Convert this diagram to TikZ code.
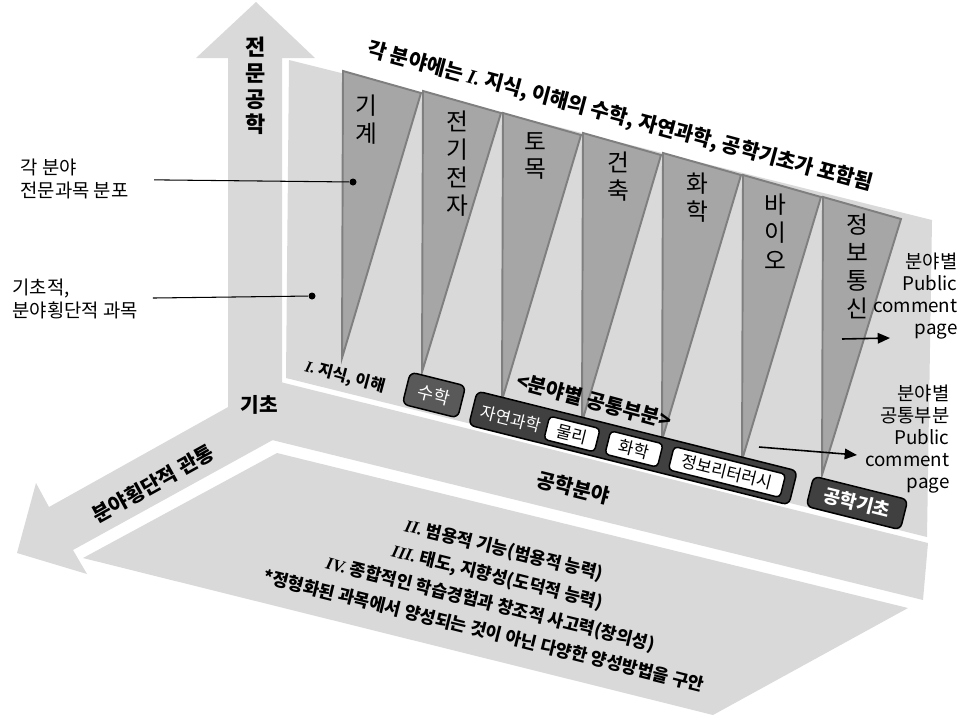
\documentclass[tikz,border=0pt]{standalone}
\usepackage{fontspec}
\setmainfont{Noto Sans CJK KR}
\newfontfamily\romfont{Liberation Serif}
\usetikzlibrary{arrows.meta,positioning}

\definecolor{floorgray}{HTML}{D9D9D9}
\definecolor{wedgefill}{HTML}{A6A6A6}
\definecolor{wedgeedge}{HTML}{7F7F7F}
\definecolor{boxdark}{HTML}{404040}
\definecolor{boxmid}{HTML}{595959}

\newcommand{\romnum}[1]{{\romfont\bfseries\itshape #1}}
\newcommand{\fsz}[2]{\fontsize{#1}{#2}\selectfont}

\begin{document}
\begin{tikzpicture}[x=0.02cm,y=-0.02cm,>={Triangle[length=7pt,width=6pt]},semithick]
  \tikzstyle{wedge}=[fill=wedgefill,draw=wedgeedge,line width=1.1pt]
  \tikzstyle{field}=[font=\fsz{13.5}{15.9},align=center,inner sep=0pt]
  \tikzstyle{axislabel}=[font=\bfseries\fsz{12.5}{14.6},align=center,inner sep=0pt]
  \tikzstyle{note}=[font=\fsz{10.7}{13},inner sep=0pt]
  \tikzstyle{darkbox}=[rotate=-14,inner sep=0pt,fill=boxdark,draw=black,line width=0.85pt,rounded corners=3.4pt,text=white]
  \tikzstyle{whitebox}=[rotate=-14,inner sep=0pt,fill=white,draw=black,line width=0.85pt,rounded corners=2.3pt,font=\fsz{9.5}{11}]
  \tikzstyle{pindot}=[circle,fill=black,inner sep=0pt,minimum size=0.14cm]

  \useasboundingbox (0,0) rectangle (976,717);

  % floor and back wall
  \fill[floorgray] (277,453) -- (908,608) -- (713,715) -- (83,558) -- cycle;
  \fill[floorgray] (289,60) -- (932,220) -- (927,537) -- (286,378) -- cycle;
  % axes: up, band to the right, down-left
  \fill[floorgray] (228,410) -- (228,58) -- (196,58) -- (256,2) -- (315,58) -- (282,58) -- (282,400) -- cycle;
  \fill[floorgray] (228,369) -- (928,543) -- (923,600) -- (272,440) -- (228,410) -- cycle;
  \fill[floorgray] (255,392) -- (49,507) -- (36,483) -- (17,553) -- (87,574) -- (73,550) -- (280,436) -- cycle;

  % wedges
  \foreach \x/\t/\b in {343/71/358,423/91/372,503/113/400,583/133/422,663/153/440,743/175/460,823/197/475}
    \draw[wedge] (\x,\t) -- (\x+78,\t+22) -- (\x-1,\b) -- cycle;

  \node[field] (mech)  at (366,120) {기\\계};
  \node[field] (elec)  at (457,164) {전\\기\\전\\자};
  \node[field] (civil) at (535,156) {토\\목};
  \node[field] (arch)  at (618,177) {건\\축};
  \node[field] (chem)  at (697,198) {화\\학};
  \node[field] (bio)   at (775,232) {바\\이\\오};
  \node[field] (info)  at (857,266) {정\\보\\통\\신};

  \node[rotate=-15,inner sep=0pt,font=\bfseries\fsz{11.5}{13}] (common) at (594,401) {<분야별 공통부분>};

  % boxes
  \node[darkbox,fill=boxmid,minimum width=1.14cm,minimum height=0.66cm,font=\fsz{10}{11}] (math) at (434,395) {수학};
  \node[darkbox,minimum width=6.6cm,minimum height=0.7cm] (sci) at (633,448) {};
  \node[rotate=-14,inner sep=0pt,text=white,font=\fsz{9.5}{11}] (scitext) at (511,419) {자연과학};
  \node[whitebox,minimum width=1.04cm,minimum height=0.48cm] (phys) at (572,434) {물리};
  \node[whitebox,minimum width=1.08cm,minimum height=0.48cm] (chembox) at (634,449) {화학};
  \node[whitebox,minimum width=2.3cm,minimum height=0.48cm] (literacy) at (727,472) {정보리터러시};
  \node[darkbox,minimum width=1.94cm,minimum height=0.62cm,font=\bfseries\fsz{10.5}{12}] (engbase) at (857,503) {공학기초};

  % axis and area texts
  \node[axislabel] (major) at (256,86) {전\\문\\공\\학};
  \node[axislabel,font=\bfseries\fsz{11.5}{13}] (basic) at (259,405) {기초};
  \node[axislabel,rotate=29,font=\bfseries\fsz{11.6}{13}] (across) at (153,484) {분야횡단적 관통};
  \node[rotate=-15,inner sep=0pt,font=\bfseries\fsz{11.6}{13}] (title) at (620,117)
    {각 분야에는 \romnum{I.} 지식, 이해의 수학, 자연과학, 공학기초가 포함됨};
  \node[rotate=-15,inner sep=0pt,font=\bfseries\fsz{9.1}{11}] (know) at (345,377) {\romnum{I.} 지식, 이해};
  \node[rotate=-14,inner sep=0pt,font=\bfseries\fsz{11.5}{13}] (engfield) at (573,488) {공학분야};
  \node[rotate=-14,inner sep=0pt,align=center,font=\bfseries\fsz{9.9}{15.9}] (skills) at (494,590)
    {\romnum{II.} 범용적 기능(범용적 능력)\\
     \romnum{III.} 태도, 지향성(도덕적 능력)\\
     \romnum{IV.} 종합적인 학습경험과 창조적 사고력(창의성)\\
     *정형화된 과목에서 양성되는 것이 아닌 다양한 양성방법을 구안};

  % side notes
  \node[note,align=left,anchor=west] (specnote) at (20,179) {각 분야\\전문과목 분포};
  \node[pindot] (specdot) at (353,182) {};
  \draw[shorten <=0.5cm] (specnote) -- (specdot);
  \node[note,align=left,anchor=west] (basenote) at (12,299) {기초적,\\분야횡단적 과목};
  \node[pindot] (basedot) at (312,296) {};
  \draw[shorten <=0.29cm] (basenote) -- (basedot);

  \node[note,align=right,anchor=east,font=\fsz{10.7}{12.6}] (pcnote) at (958,296) {분야별\\Public\\comment\\page};
  \node[note,align=right,anchor=east,font=\fsz{10.7}{12.5}] (pccommon) at (950,439) {분야별\\공통부분\\Public\\comment\\page};
  \coordinate (pcfrom) at (842,339);
  \coordinate (pcto) at (890,338);
  \draw[->,line width=0.9pt] (pcfrom) -- (pcto);
  \coordinate (ccfrom) at (759,447);
  \coordinate (ccto) at (857,455);
  \draw[->,line width=0.9pt] (ccfrom) -- (ccto);
\end{tikzpicture}
\end{document}
